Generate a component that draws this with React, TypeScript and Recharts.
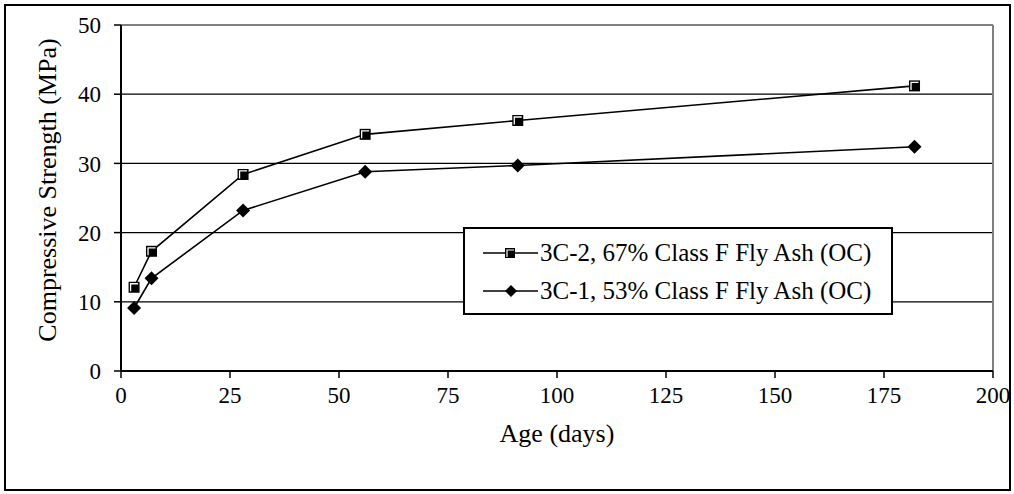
import { LineChart, Line, XAxis, YAxis, ReferenceLine, Legend, Label } from "recharts";

const days = [3, 7, 28, 56, 91, 182];
const fly67 = [12.1, 17.3, 28.4, 34.2, 36.2, 41.2];
const fly53 = [9.1, 13.4, 23.2, 28.8, 29.7, 32.4];
const xTicks = [0, 25, 50, 75, 100, 125, 150, 175, 200];
const yTicks = [0, 10, 20, 30, 40, 50];
const gridValues = [10, 20, 30, 40];
const seriesNames = ["3C-2, 67% Class F Fly Ash (OC)", "3C-1, 53% Class F Fly Ash (OC)"];

const data = days.map((d, i) => ({ day: d, c2: fly67[i], c1: fly53[i] }));

const font = "'Liberation Serif', 'Times New Roman', serif";

function SquareDot(props: any) {
  const { cx, cy } = props;
  if (cx == null || cy == null) return null;
  return (
    <g>
      <rect x={cx - 5.5} y={cy - 5.5} width={11} height={11} fill="#000" />
      <path d={`M${cx - 3.5} ${cy + 4} V${cy - 3.5} H${cx + 4}`} stroke="#fff" strokeWidth={1.3} fill="none" />
    </g>
  );
}

function DiamondDot(props: any) {
  const { cx, cy } = props;
  if (cx == null || cy == null) return null;
  return <path d={`M${cx} ${cy - 7} L${cx + 7} ${cy} L${cx} ${cy + 7} L${cx - 7} ${cy} Z`} fill="#000" />;
}

function LegendBox() {
  const rows = [
    { name: seriesNames[0], icon: "square" },
    { name: seriesNames[1], icon: "diamond" },
  ];
  return (
    <div
      style={{
        width: 430,
        height: 88,
        border: "2px solid #000",
        background: "#fff",
        boxSizing: "border-box",
        fontFamily: font,
        fontSize: 25,
        paddingTop: 5,
      }}
    >
      {rows.map((r) => (
        <div key={r.name} style={{ display: "flex", alignItems: "center", height: 38, whiteSpace: "nowrap" }}>
          <svg width={75} height={20} style={{ flex: "none" }}>
            <line x1={18} y1={10} x2={73} y2={10} stroke="#000" strokeWidth={1.5} />
            {r.icon === "square" ? (
              <g>
                <rect x={40} y={5} width={10} height={10} fill="#000" />
                <path d="M42 14 V7 H49" stroke="#fff" strokeWidth={1.2} fill="none" />
              </g>
            ) : (
              <path d="M46 4 L52 10 L46 16 L40 10 Z" fill="#000" />
            )}
          </svg>
          <span>{r.name}</span>
        </div>
      ))}
    </div>
  );
}

export default function App() {
  return (
    <div style={{ position: "absolute", left: 0, top: 0, width: 1014, height: 494, background: "#fff" }}>
      <div
        style={{
          position: "absolute",
          left: 4,
          top: 4,
          width: 1007,
          height: 487,
          border: "2px solid #000",
          boxSizing: "border-box",
        }}
      />
      <div style={{ position: "absolute", left: 0, top: 0 }}>
        <LineChart width={1014} height={494} data={data} margin={{ top: 25, right: 21, left: 0, bottom: 93 }}>
          <XAxis
            dataKey="day"
            type="number"
            domain={[0, 200]}
            ticks={xTicks}
            interval={0}
            axisLine={{ stroke: "#000", strokeWidth: 2 }}
            tickLine={{ stroke: "#000", strokeWidth: 1.5 }}
            tickSize={7}
            tickMargin={9}
            height={30}
            tick={{ fill: "#000", fontSize: 23, fontFamily: font }}
          >
            <Label
              content={() => (
                <text x={557} y={442} textAnchor="middle" fontFamily={font} fontSize={26} fill="#000">
                  Age (days)
                </text>
              )}
            />
          </XAxis>
          <YAxis
            type="number"
            domain={[0, 50]}
            ticks={yTicks}
            interval={0}
            width={121}
            axisLine={{ stroke: "#000", strokeWidth: 2 }}
            tickLine={{ stroke: "#000", strokeWidth: 1.5 }}
            tickSize={7}
            tickMargin={13}
            tick={{ fill: "#000", fontSize: 23, fontFamily: font }}
          >
            <Label
              content={() => (
                <text
                  x={0}
                  y={0}
                  transform="translate(56 190) rotate(-90)"
                  textAnchor="middle"
                  fontFamily={font}
                  fontSize={26}
                  fill="#000"
                >
                  Compressive Strength (MPa)
                </text>
              )}
            />
          </YAxis>
          {gridValues.map((v) => (
            <ReferenceLine key={v} y={v} stroke="#000" strokeWidth={1.2} />
          ))}
          <ReferenceLine y={50} stroke="#808080" strokeWidth={2} />
          <ReferenceLine x={200} stroke="#808080" strokeWidth={2} />
          <Legend
            layout="horizontal"
            verticalAlign="middle"
            align="center"
            wrapperStyle={{ position: "absolute", left: 463, top: 227, width: 430, height: 88 }}
            content={() => <LegendBox />}
          />
          <Line
            dataKey="c2"
            name={seriesNames[0]}
            type="linear"
            stroke="#000"
            strokeWidth={1.6}
            dot={<SquareDot />}
            isAnimationActive={false}
          />
          <Line
            dataKey="c1"
            name={seriesNames[1]}
            type="linear"
            stroke="#000"
            strokeWidth={1.6}
            dot={<DiamondDot />}
            isAnimationActive={false}
          />
        </LineChart>
      </div>
    </div>
  );
}
